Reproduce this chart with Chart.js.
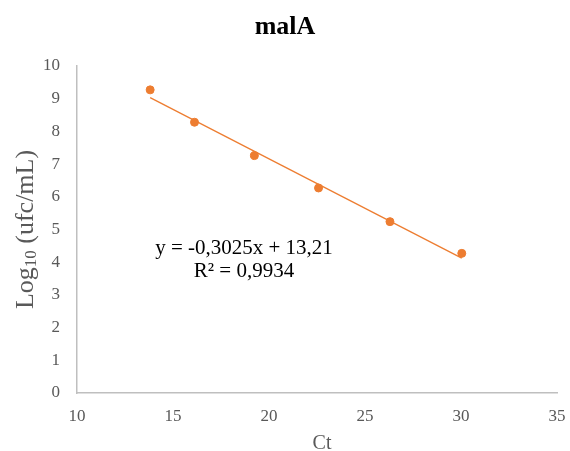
<!DOCTYPE html>
<html>
<head>
<meta charset="utf-8">
<script src="https://cdn.jsdelivr.net/npm/chart.js@4"></script>
<style>
  html, body { margin: 0; padding: 0; background: #fff; }
  #wrap { width: 570px; height: 451px; }
</style>
</head>
<body>
<div id="wrap"><canvas id="js-chart" width="570" height="451"></canvas></div>
<script>
"use strict";

// données
const ctValues = [13.81, 16.12, 19.24, 22.58, 26.3, 30.04];
const logValues = [9.27, 8.28, 7.26, 6.27, 5.24, 4.27];
const xTicks = [10, 15, 20, 25, 30, 35];
const yTicks = [0, 1, 2, 3, 4, 5, 6, 7, 8, 9, 10];
const slope = -0.3025;
const intercept = 13.21;
const eqLines = ["y = -0,3025x + 13,21", "R\u00b2 = 0,9934"];

const serif = "'Liberation Serif', 'Times New Roman', serif";
const orange = "#ED7D31";
const grey = "#595959";

const points = ctValues.map((x, i) => ({ x: x, y: logValues[i] }));
const xMin = Math.min(...ctValues), xMax = Math.max(...ctValues);
const trend = [
  { x: xMin, y: slope * xMin + intercept },
  { x: xMax, y: slope * xMax + intercept },
];

// titre, titres des axes (Log avec indice) et équation
const textPlugin = {
  id: "texts",
  afterDraw(chart) {
    const ctx = chart.ctx;
    const area = chart.chartArea;
    ctx.save();
    ctx.fillStyle = "#000";
    ctx.font = "bold 26px " + serif;
    ctx.textAlign = "center";
    ctx.textBaseline = "alphabetic";
    ctx.fillText("malA", 285, 34);

    // Log10 (ufc/mL)
    ctx.save();
    ctx.translate(33, (area.top + area.bottom) / 2);
    ctx.rotate(-Math.PI / 2);
    ctx.fillStyle = grey;
    const big = "26px " + serif, small = "17px " + serif;
    const parts = [["Log", big, 0], ["10", small, 3], [" (ufc/mL)", big, 0]];
    let total = 0;
    parts.forEach(p => { ctx.font = p[1]; total += ctx.measureText(p[0]).width; });
    let cx = -total / 2;
    ctx.textAlign = "left";
    parts.forEach(p => {
      ctx.font = p[1];
      ctx.fillText(p[0], cx, p[2]);
      cx += ctx.measureText(p[0]).width;
    });
    ctx.restore();

    // Ct
    ctx.fillStyle = grey;
    ctx.font = "20px " + serif;
    ctx.fillText("Ct", 322, 449);

    ctx.font = "21px " + serif;
    ctx.fillStyle = "#000";
    ctx.fillText(eqLines[0], 244, 254);
    ctx.fillText(eqLines[1], 244, 277);
    ctx.restore();
  },
};

const ctx = document.getElementById("js-chart").getContext("2d");
const myChart = new Chart(ctx, {
  type: "scatter",
  data: {
    datasets: [
      {
        label: "tendance",
        data: trend,
        showLine: true,
        borderColor: orange,
        borderWidth: 1.3,
        pointRadius: 0,
        order: 2,
      },
      {
        label: "malA",
        data: points,
        backgroundColor: orange,
        borderColor: orange,
        pointRadius: 4,
        order: 1,
      },
    ],
  },
  options: {
    responsive: false,
    animation: false,
    layout: { padding: { top: 66, right: 13, left: 0, bottom: 0 } },
    plugins: {
      legend: { display: false },
      tooltip: { enabled: false },
    },
    scales: {
      x: {
        type: "linear",
        min: 10,
        max: 35,
        afterBuildTicks: (s) => { s.ticks = xTicks.map(v => ({ value: v })); },
        afterFit: (s) => {
          s.height = 58;
          s.paddingLeft = 0;
          s.paddingRight = 0;
        },
        grid: { display: false, drawTicks: false },
        border: { display: true, color: "#bfbfbf", width: 1.5 },
        ticks: {
          color: grey,
          padding: 13,
          font: { family: serif, size: 17 },
        },
      },
      y: {
        min: 0,
        max: 10,
        afterBuildTicks: (s) => { s.ticks = yTicks.map(v => ({ value: v })); },
        afterFit: (s) => { s.width = 77; },
        grid: { display: false, drawTicks: false },
        border: { display: true, color: "#bfbfbf", width: 1.5 },
        ticks: {
          color: grey,
          padding: 17,
          font: { family: serif, size: 17 },
        },
      },
    },
  },
  plugins: [textPlugin],
});
</script>
</body>
</html>
